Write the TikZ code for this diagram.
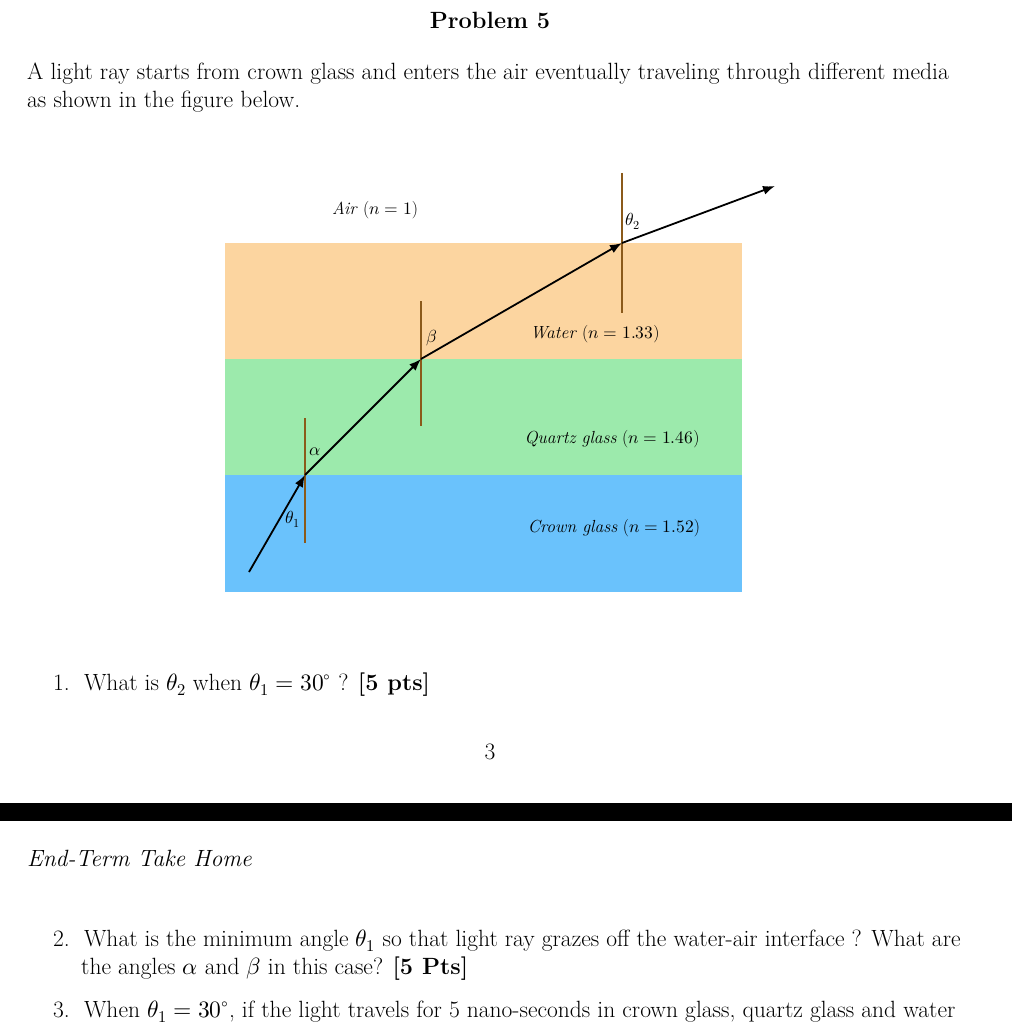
\documentclass[tikz,border=0pt]{standalone}
\usepackage{fontspec}
\usepackage{unicode-math}
\setmathfont{Latin Modern Math}
\usetikzlibrary{arrows.meta}
\begin{document}
\begin{tikzpicture}[x=1pt,y=-1pt,
 txt/.style={inner sep=0pt,anchor=base west,font=\fontsize{23.5}{26}\selectfont},
 lab/.style={inner sep=0pt,font=\fontsize{17.5}{20}\selectfont},
 normal/.style={draw={rgb,255:red,139;green,90;blue,26},line width=1.8pt},
 ray/.style={draw=black,line width=1.8pt,-{Latex[length=12pt,width=9pt]}}]
\useasboundingbox (0,0) rectangle (1012,1024);
\node[txt,anchor=base] (title) at (490,29) {\textbf{Problem 5}};
\node[txt] (p1) at (27,80) {A light ray starts from crown glass and enters the air eventually traveling through different media};
\node[txt] (p2) at (27,108) {as shown in the figure below.};
% layers
\fill[fill={rgb,255:red,252;green,213;blue,160}] (225,243) rectangle (742,359);
\fill[fill={rgb,255:red,156;green,234;blue,172}] (225,359) rectangle (742,475);
\fill[fill={rgb,255:red,106;green,194;blue,252}] (225,475) rectangle (742,592);
% normals
\coordinate (n1t) at (305,418); \coordinate (n1b) at (305,543);
\coordinate (n2t) at (421,301); \coordinate (n2b) at (421,426);
\coordinate (n3t) at (622,173); \coordinate (n3b) at (622,313);
\draw[normal] (n1t) -- (n1b);
\draw[normal] (n2t) -- (n2b);
\draw[normal] (n3t) -- (n3b);
% ray
\coordinate (r0) at (249,572);
\coordinate (r1) at (305,475);
\coordinate (r2) at (421,359);
\coordinate (r3) at (622,243);
\coordinate (r4) at (775,186);
\draw[ray] (r0) -- (r1);
\draw[ray] (r1) -- (r2);
\draw[ray] (r2) -- (r3);
\draw[ray] (r3) -- (r4);
% labels
\node[lab] (air) at (375,210) {\textit{Air} ($n=1$)};
\node[lab] (t2) at (633,221) {$\theta_2$};
\node[lab] (be) at (432,338) {$\beta$};
\node[lab] (wat) at (595,334) {\textit{Water} ($n=1.33$)};
\node[lab] (al) at (315,452) {$\alpha$};
\node[lab] (qua) at (612,439) {\textit{Quartz glass} ($n=1.46$)};
\node[lab] (t1) at (293,519) {$\theta_1$};
\node[lab] (cro) at (614,528) {\textit{Crown glass} ($n=1.52$)};
% questions
\node[txt] (q1) at (53,690) {1.\ \ What is $\theta_2$ when $\theta_1=30^\circ$ ? \textbf{[5 pts]}};
\node[txt,anchor=base] (pg) at (490,759) {3};
\fill[black] (0,803) rectangle (1012,821);
\node[txt] (et) at (27,866) {\textit{End-Term Take Home}};
\node[txt] (q2a) at (53,946) {2.\ \ What is the minimum angle $\theta_1$ so that light ray grazes off the water-air interface ? What are};
\node[txt] (q2b) at (81,974) {the angles $\alpha$ and $\beta$ in this case? \textbf{[5 Pts]}};
\node[txt] (q3) at (53,1017) {3.\ \ When $\theta_1=30^\circ$, if the light travels for 5 nano-seconds in crown glass, quartz glass and water};
\end{tikzpicture}
\end{document}
